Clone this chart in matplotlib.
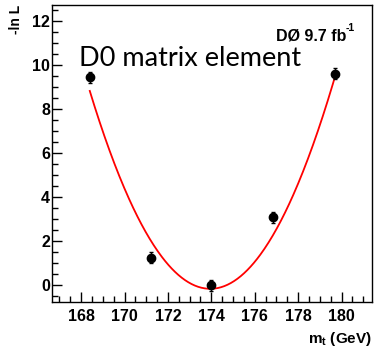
import matplotlib.pyplot as plt
import numpy as np
from matplotlib.ticker import MultipleLocator

# measured points
top_mass = [168.4, 171.2, 174.0, 176.85, 179.7]
neg_log_l = [9.45, 1.25, 0.0, 3.08, 9.6]
neg_log_l_err = [0.25, 0.25, 0.25, 0.25, 0.25]

# parabola fit parameters
fit_min_mass = 173.95
fit_min_value = -0.17
fit_curvature = 0.292
fit_range = (168.4, 179.7)


def main():
    fig = plt.figure(figsize=(3.74, 3.48), dpi=100)
    ax = fig.add_axes([52 / 374, 1 - 302 / 348, 320 / 374, 297 / 348])

    xs = np.linspace(fit_range[0], fit_range[1], 300)
    ys = fit_curvature * (xs - fit_min_mass) ** 2 + fit_min_value
    ax.plot(xs, ys, color="red", lw=1.3, zorder=2)

    ax.errorbar(top_mass, neg_log_l, yerr=neg_log_l_err, fmt="o", color="black",
                ms=6, elinewidth=1.0, capsize=1.5, capthick=1.0, zorder=3)

    ax.set_xlim(166.66, 181.4)
    ax.set_ylim(-0.77, 12.73)

    ax.xaxis.set_major_locator(MultipleLocator(2))
    ax.xaxis.set_minor_locator(MultipleLocator(0.5))
    ax.yaxis.set_major_locator(MultipleLocator(2))
    ax.yaxis.set_minor_locator(MultipleLocator(0.5))
    ax.tick_params(which="both", direction="in", top=False, right=False, width=1)
    ax.tick_params(which="major", length=7)
    ax.tick_params(which="minor", length=4)
    ax.tick_params(axis="x", pad=5)
    ax.tick_params(axis="y", pad=1.5)
    for lab in ax.get_xticklabels() + ax.get_yticklabels():
        lab.set_fontweight("bold")
        lab.set_family("Liberation Sans")
        lab.set_fontsize(11.5)
    for s in ax.spines.values():
        s.set_linewidth(1)

    ax.set_xlabel(r"m$_\mathbf{t}$ (GeV)", fontweight="bold", family="Liberation Sans",
                  fontsize=11, loc="right", labelpad=4)
    ax.set_ylabel("-ln L", fontweight="bold", family="Liberation Sans",
                  fontsize=10, loc="top", labelpad=6.5)

    ax.text(0.084, 0.795, "D0 matrix element", transform=ax.transAxes, fontsize=19.5,
            family="Lato", fontweight="normal")
    ax.text(0.919, 0.879, "DØ 9.7 fb", transform=ax.transAxes,
            fontsize=11.5, fontweight="bold", family="Liberation Sans", ha="right")
    ax.text(0.919, 0.912, "-1", transform=ax.transAxes,
            fontsize=7.5, fontweight="bold", family="Liberation Sans", ha="left")

    fig.savefig("out.png", dpi=100)


if __name__ == "__main__":
    plt.rcParams["mathtext.fontset"] = "custom"
    plt.rcParams["mathtext.rm"] = "Liberation Sans"
    plt.rcParams["mathtext.bf"] = "Liberation Sans:bold"
    main()
